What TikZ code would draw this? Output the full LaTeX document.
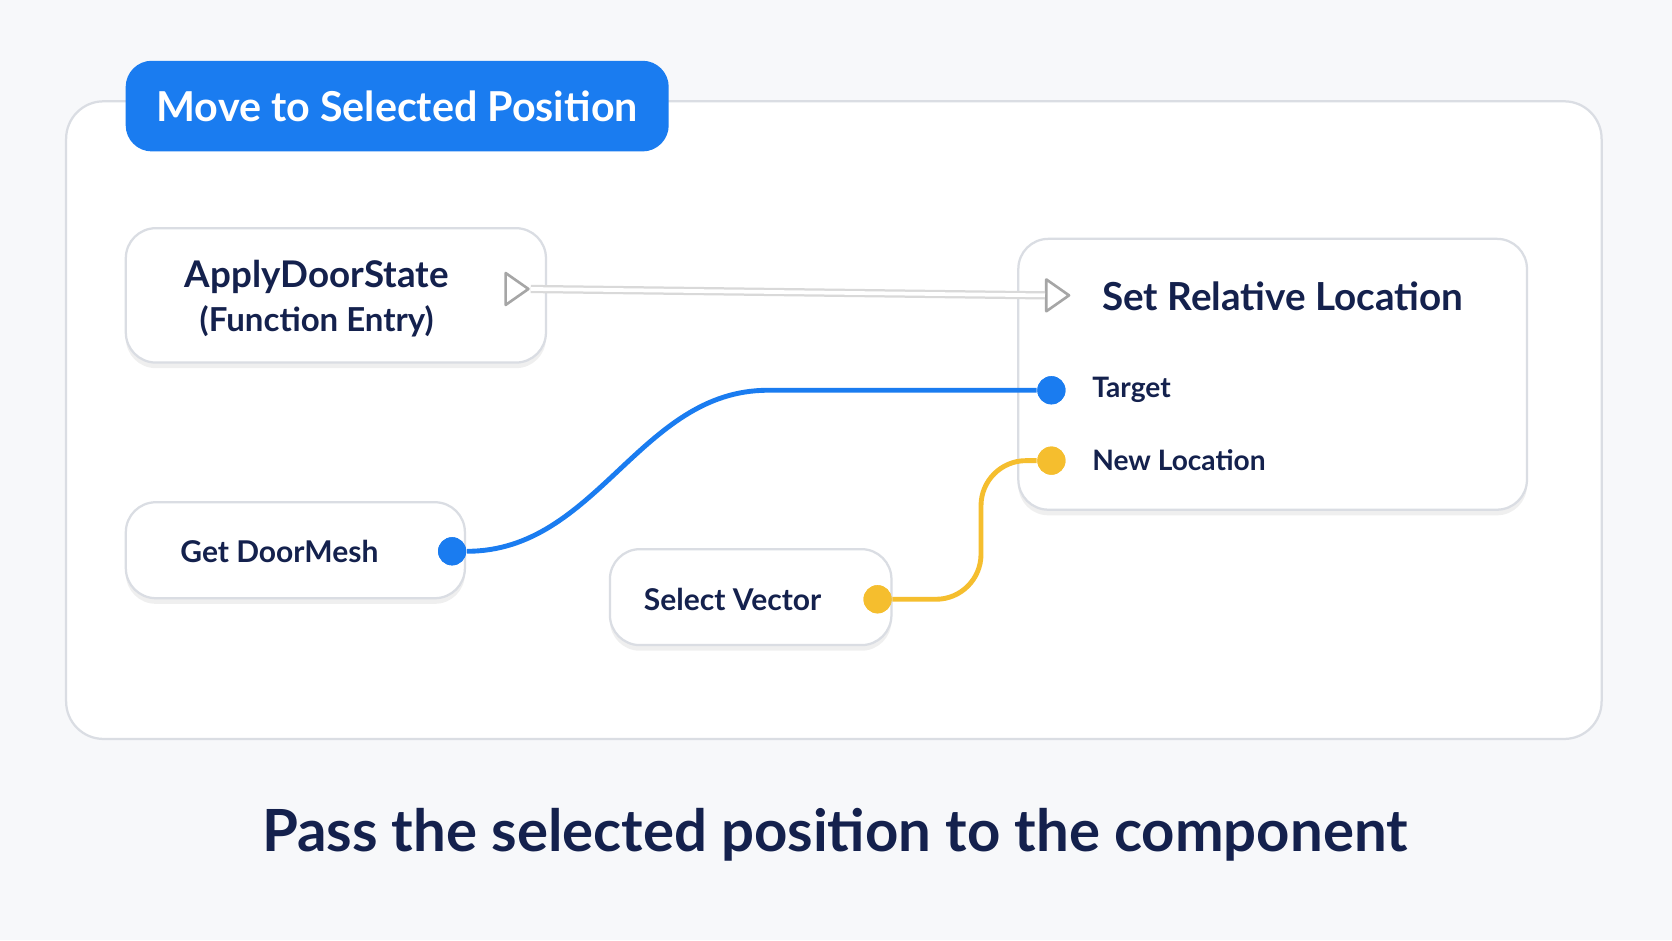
\documentclass[tikz,border=0pt]{standalone}
\usepackage{fontspec}
\setmainfont{Lato}
\usetikzlibrary{shadows,shapes.geometric}
\definecolor{navy}{HTML}{14214D}
\definecolor{pinblue}{HTML}{1A7CF0}
\definecolor{pinyellow}{HTML}{F5BE2E}
\definecolor{edge}{HTML}{DADDE3}
\definecolor{bgpage}{HTML}{F7F8FA}
\tikzset{
  box/.style={draw=edge, fill=white, rounded corners=8pt, line width=0.6pt,
    drop shadow={shadow xshift=0pt, shadow yshift=-1.5pt, opacity=0.12}},
  pin/.style={circle, inner sep=0pt, minimum size=7.5pt},
  exec/.style={draw=gray!70, fill=white, line width=0.7pt, line join=round,
    isosceles triangle, isosceles triangle apex angle=70, inner sep=0pt, minimum width=8.5pt},
  label/.style={text=navy, font=\bfseries\fontsize{8}{10}\selectfont}
}
\begin{document}
\begin{tikzpicture}[x=0.01cm, y=-0.01cm]
\useasboundingbox[fill=bgpage] (0,0) rectangle (1568,882);

% panel and title
\draw[draw=edge, fill=white, rounded corners=10pt, line width=0.6pt] (62,95) rectangle (1502,693);
\node (title) [fill=pinblue, rounded corners=7pt, minimum width=5.09cm, minimum height=0.85cm,
  text=white, font=\bfseries\fontsize{11}{13}\selectfont] at (372.5,99.5) {Move to Selected Position};

% nodes
\draw[box] (118,214) rectangle (512,340);
\node (entry) [text=navy, align=center, font=\bfseries\fontsize{9.8}{12.5}\selectfont] at (297,280)
  {ApplyDoorState\\[-1pt]{\fontsize{8.8}{11}\selectfont (Function Entry)}};
\draw[box] (955,224) rectangle (1432,478);
\node (set) [text=navy, font=\bfseries\fontsize{10.3}{12}\selectfont] at (1203,278) {Set Relative Location};
\draw[box] (118,471) rectangle (436,561);
\node (mesh) [label] at (262,517) {Get DoorMesh};
\draw[box] (572,515) rectangle (836,605);
\node (vector) [label] at (687,562) {Select Vector};

% pins
\node (execout) [exec] at (482,271) {};
\node (execin) [exec] at (989,277) {};
\node (meshpin) [pin, fill=pinblue] at (424,517) {};
\node (vecpin) [pin, fill=pinyellow] at (823,562) {};
\node (target) [pin, fill=pinblue] at (986,366) {};
\node (newloc) [pin, fill=pinyellow] at (986,432) {};
\node [label, font=\fontsize{7.5}{9}\selectfont\bfseries, anchor=west] at (1012,366) {Target};
\node [label, font=\fontsize{7.5}{9}\selectfont\bfseries, anchor=west] at (1012,432) {New Location};

% wires
\draw[gray!30, line width=2.2pt] (execout.east) -- (execin.west);
\draw[white, line width=1pt] (execout.east) -- (execin.west);
\draw[pinblue, line width=1.3pt] (meshpin) .. controls (560,517) and (600,366) .. (720,366) -- (target);
\draw[pinyellow, line width=1.3pt, rounded corners=12pt] (vecpin) -- (920,562) -- (920,432) -- (newloc);
\node[pin, fill=pinblue] at (meshpin) {};
\node[pin, fill=pinyellow] at (vecpin) {};
\node[pin, fill=pinblue] at (target) {};
\node[pin, fill=pinyellow] at (newloc) {};

% caption
\node (caption) [text=navy, font=\bfseries\fontsize{15.5}{19}\selectfont] at (783,783)
  {Pass the selected position to the component};
\end{tikzpicture}
\end{document}
